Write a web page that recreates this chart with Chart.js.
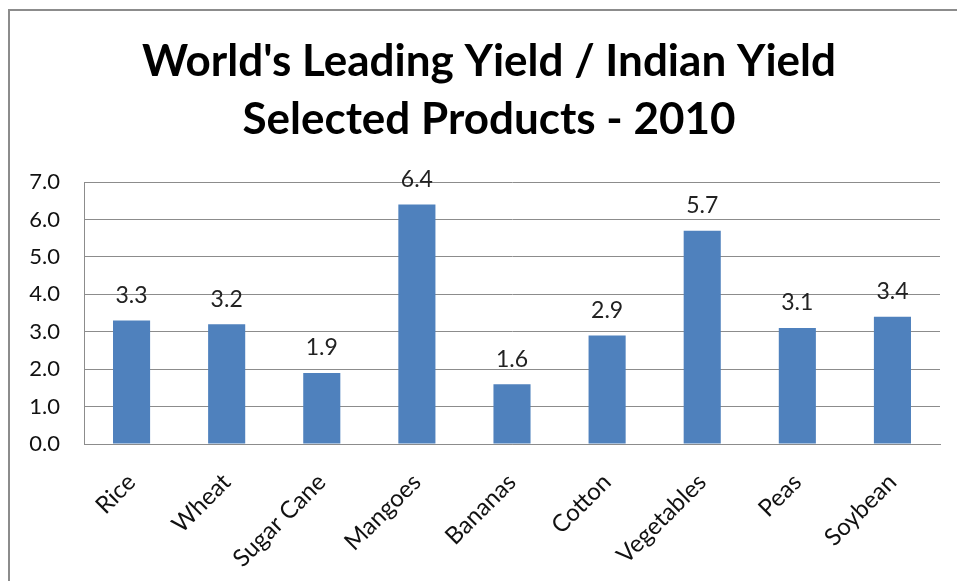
<!DOCTYPE html>
<html lang="en">
<head>
    <meta charset="UTF-8">
    <title>World's Leading Yield / Indian Yield</title>
    <script src="https://cdn.jsdelivr.net/npm/chart.js"></script>
    <style>
        body { margin: 0; background: #fff; }
        #wrap { position: relative; width: 957px; height: 581px; }
    </style>
</head>
<body>
    <div id="wrap">
        <canvas id="yieldChart"></canvas>
    </div>

    <script>
        // ratio of the world's leading yield to the Indian yield, 2010
        const products = ['Rice', 'Wheat', 'Sugar Cane', 'Mangoes', 'Bananas', 'Cotton', 'Vegetables', 'Peas', 'Soybean'];
        const yieldRatio = [3.3, 3.2, 1.9, 6.4, 1.6, 2.9, 5.7, 3.1, 3.4];
        const titleLines = ["World's Leading Yield / Indian Yield", 'Selected Products - 2010'];

        const fontFamily = 'Lato, "Open Sans", sans-serif';

        // outer frame of the chart (only the left and top edges are visible)
        const framePlugin = {
            id: 'frame',
            beforeDraw(chart) {
                const ctx = chart.ctx;
                ctx.save();
                ctx.strokeStyle = '#8c8c8c';
                ctx.lineWidth = 2;
                ctx.beginPath();
                ctx.moveTo(9, chart.height);
                ctx.lineTo(9, 10);
                ctx.lineTo(chart.width, 10);
                ctx.stroke();
                ctx.restore();
            }
        };

        // value printed above every bar
        const valueLabels = {
            id: 'valueLabels',
            afterDatasetsDraw(chart) {
                const ctx = chart.ctx;
                const meta = chart.getDatasetMeta(0);
                ctx.save();
                ctx.font = '23px ' + fontFamily;
                ctx.fillStyle = '#222';
                ctx.textAlign = 'center';
                ctx.textBaseline = 'middle';
                meta.data.forEach((bar, i) => {
                    ctx.fillText(yieldRatio[i].toFixed(1), bar.x, bar.y - 25);
                });
                ctx.restore();
            }
        };

        const ctx = document.getElementById('yieldChart').getContext('2d');
        new Chart(ctx, {
            type: 'bar',
            data: {
                labels: products,
                datasets: [{
                    data: yieldRatio,
                    backgroundColor: '#4f81bd',
                    borderWidth: 0,
                    barPercentage: 0.39,
                    categoryPercentage: 1
                }]
            },
            options: {
                responsive: true,
                maintainAspectRatio: false,
                animation: false,
                layout: { padding: { left: 21, right: 0, top: 10, bottom: 0 } },
                plugins: {
                    legend: { display: false },
                    tooltip: { enabled: false },
                    title: {
                        display: true,
                        text: titleLines,
                        color: '#000',
                        font: { family: fontFamily, size: 44, weight: 'bold', lineHeight: 1.32 },
                        padding: { top: 23, bottom: 33 }
                    }
                },
                scales: {
                    x: {
                        grid: { display: false },
                        border: { color: '#8c8c8c', width: 1 },
                        ticks: {
                            color: '#111',
                            font: { family: fontFamily, size: 24 },
                            minRotation: 45,
                            maxRotation: 45,
                            padding: 16
                        },
                        afterFit(scale) { scale.height = 137; }
                    },
                    y: {
                        min: 0,
                        max: 7,
                        grid: { color: '#8c8c8c', drawTicks: false },
                        border: { color: '#8c8c8c', width: 1 },
                        ticks: {
                            stepSize: 1,
                            color: '#111',
                            font: { family: fontFamily, size: 22 },
                            padding: 24,
                            callback: v => v.toFixed(1)
                        },
                        afterFit(scale) { scale.width = 63; }
                    },
                    pad: {
                        position: 'right',
                        grid: { display: false },
                        border: { display: false },
                        ticks: { display: false },
                        afterFit(scale) { scale.width = 17; }
                    }
                }
            },
            plugins: [framePlugin, valueLabels]
        });
    </script>
</body>
</html>
